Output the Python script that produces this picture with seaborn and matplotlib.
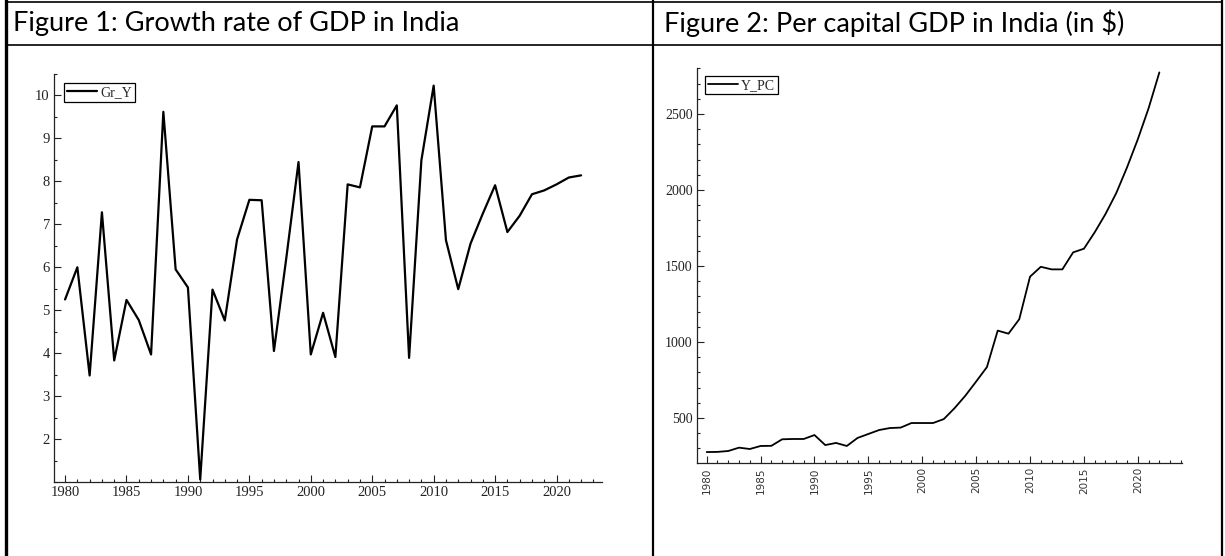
import numpy as np
import pandas as pd
import matplotlib.pyplot as plt
from matplotlib.lines import Line2D
from matplotlib.ticker import MultipleLocator
import seaborn as sns

# data
years = list(range(1980, 2023))
gr_y = [5.25, 6.00, 3.48, 7.28, 3.83, 5.24, 4.77, 3.97, 9.62, 5.95,
        5.53, 1.06, 5.48, 4.76, 6.65, 7.57, 7.56, 4.05, 6.20, 8.45,
        3.97, 4.94, 3.91, 7.93, 7.86, 9.28, 9.28, 9.77, 3.89, 8.49,
        10.23, 6.63, 5.49, 6.55, 7.25, 7.91, 6.82, 7.20, 7.70, 7.79,
        7.93, 8.09, 8.14]
y_pc = [276, 277, 283, 305, 296, 316, 317, 360, 362, 362,
        388, 322, 336, 316, 369, 395, 421, 434, 437, 467,
        467, 467, 493, 565, 647, 740, 835, 1075, 1055, 1150,
        1430, 1495, 1478, 1478, 1590, 1614, 1722, 1842, 1980, 2149,
        2334, 2538, 2774]

titles = ['Figure 1: Growth rate of GDP in India',
          'Figure 2: Per capital GDP in India (in $)']

df = pd.DataFrame({'year': years, 'Gr_Y': gr_y, 'Y_PC': y_pc})

sns.set_theme(style='ticks')
plt.rcParams['font.family'] = ['Liberation Serif', 'DejaVu Serif']

W, H = 1225, 556
fig = plt.figure(figsize=(W / 100, H / 100), dpi=100)


def px_axes(l, t, r, b):
    return fig.add_axes([l / W, 1 - b / H, (r - l) / W, (b - t) / H])


def hline(x0, x1, y, lw):
    fig.add_artist(Line2D([x0 / W, x1 / W], [1 - y / H, 1 - y / H],
                          transform=fig.transFigure, color='black', lw=lw))


def vline(x, y0, y1, lw):
    fig.add_artist(Line2D([x / W, x / W], [1 - y0 / H, 1 - y1 / H],
                          transform=fig.transFigure, color='black', lw=lw))


def style_axes(ax):
    sns.despine(ax=ax)
    for s in ['left', 'bottom']:
        ax.spines[s].set_color('#222222')
        ax.spines[s].set_linewidth(0.9)
    ax.tick_params(which='both', direction='in', color='#222222', width=0.8)
    ax.tick_params(which='major', length=5, pad=3)
    ax.tick_params(which='minor', length=2.5)
    ax.xaxis.set_major_locator(MultipleLocator(5))
    ax.xaxis.set_minor_locator(MultipleLocator(1))
    ax.set_xlabel('')
    ax.set_ylabel('')


def add_legend(ax, x, y):
    leg = ax.legend(loc='upper left', bbox_to_anchor=(x, y), borderaxespad=0,
                    fancybox=False, framealpha=1, edgecolor='black',
                    prop={'family': 'Liberation Serif', 'size': 10},
                    handlelength=2.2, handletextpad=0.2, borderpad=0.2)
    leg.get_frame().set_linewidth(0.9)


# Figure 1
ax1 = px_axes(54, 74, 602, 482)
sns.lineplot(data=df, x='year', y='Gr_Y', ax=ax1, color='black', lw=1.6, label='Gr_Y')
ax1.set_xlim(1979.1, 2023.7)
ax1.set_ylim(1.0, 10.5)
style_axes(ax1)
ax1.yaxis.set_minor_locator(MultipleLocator(0.5))
ax1.set_yticks([2, 3, 4, 5, 6, 7, 8, 9, 10])
for lab in ax1.get_xticklabels() + ax1.get_yticklabels():
    lab.set_fontsize(10.5)
    lab.set_color('#222222')
add_legend(ax1, 0.018, 0.978)

# Figure 2
ax2 = px_axes(697, 68, 1182, 463)
sns.lineplot(data=df, x='year', y='Y_PC', ax=ax2, color='black', lw=1.3, label='Y_PC')
ax2.set_xlim(1979.1, 2024.1)
ax2.set_ylim(204, 2803)
style_axes(ax2)
ax2.set_yticks([500, 1000, 1500, 2000, 2500])
ax2.yaxis.set_minor_locator(MultipleLocator(100))
ax2.set_xticks([1980, 1985, 1990, 1995, 2000, 2005, 2010, 2015, 2020])
for lab in ax2.get_yticklabels():
    lab.set_fontsize(10)
    lab.set_color('#222222')
for lab in ax2.get_xticklabels():
    lab.set_family('DejaVu Sans')
    lab.set_fontsize(7.5)
    lab.set_rotation(90)
    lab.set_color('#333333')
add_legend(ax2, 0.0165, 0.98)

# table frame
vline(6, 0, H, 2.4)
vline(653, 0, H, 1.6)
vline(1222, 0, H, 1.6)
hline(6, 1222, 2, 1.2)
hline(6, 1222, 45, 1.2)

# header texts, size fitted to the reference width
t1 = fig.text(13 / W, 1 - 23 / H, titles[0], family='Lato', fontsize=16, va='center', color='black')
t2 = fig.text(664 / W, 1 - 23 / H, titles[1], family='Lato', fontsize=16, va='center', color='black')
fig.canvas.draw()
w1 = t1.get_window_extent().width
size = 16 * 449 / w1
t1.set_fontsize(size)
t2.set_fontsize(size)

fig.savefig('out.png', dpi=100)
